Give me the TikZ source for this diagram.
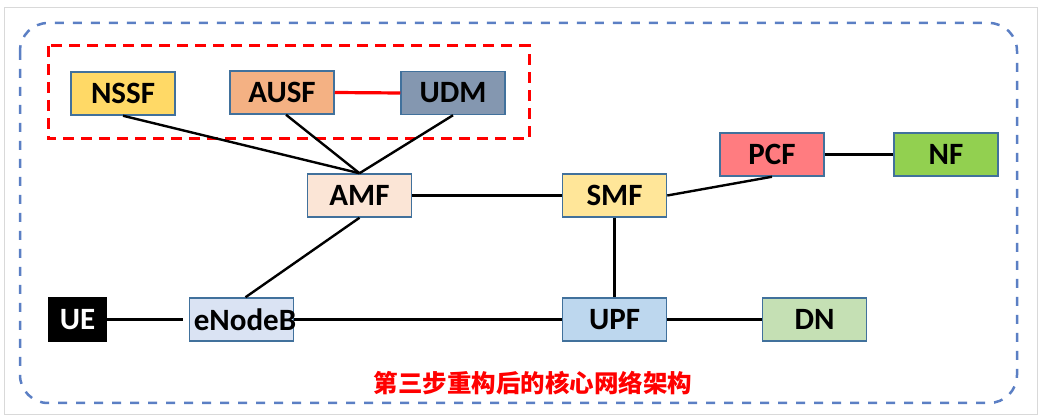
\documentclass[tikz,border=0pt]{standalone}
\usepackage{fontspec}
\setmainfont{Carlito}
\newfontfamily\cjk{Noto Sans CJK SC}
\definecolor{boxborder}{HTML}{41719C}
\definecolor{cNSSF}{HTML}{FFD966}
\definecolor{cAUSF}{HTML}{F4B183}
\definecolor{cUDM}{HTML}{8497B0}
\definecolor{cAMF}{HTML}{FBE5D6}
\definecolor{cSMF}{HTML}{FFE699}
\definecolor{cPCF}{HTML}{FF7C80}
\definecolor{cNF}{HTML}{92D050}
\definecolor{cENB}{HTML}{DAE3F3}
\definecolor{cUPF}{HTML}{BDD7EE}
\definecolor{cDN}{HTML}{C5E0B4}
\definecolor{outerblue}{HTML}{5B7FC4}
\definecolor{framegray}{HTML}{D9D9D9}
\begin{document}
\begin{tikzpicture}[x=1pt,y=-1pt,
  boxfont/.style={font=\fontsize{31}{34}\selectfont\bfseries},
  nf/.style={draw=boxborder, line width=1.5pt, minimum width=104pt, minimum height=43pt,
    inner sep=0pt, boxfont, text=black},
  link/.style={line width=2.4pt, black},
  redlink/.style={line width=3.2pt, red}]
\useasboundingbox (0,0) rectangle (1042,419);
\draw[framegray, line width=1pt] (4,8) rectangle (1037,415);
\draw[outerblue, line width=2.5pt, dash pattern=on 9pt off 9pt, rounded corners=28pt] (20,23) rectangle (1017,403);
\draw[red, line width=3pt, dash pattern=on 11pt off 7pt] (48,46) rectangle (529,139);

\node[nf, fill=cNSSF] (nssf) at (123,93.5) {NSSF};
\node[nf, fill=cAUSF] (ausf) at (282,92.5) {AUSF};
\node[nf, fill=cUDM] (udm) at (453,93) {UDM};
\node[nf, fill=cAMF] (amf) at (359.5,195.5) {AMF};
\node[nf, fill=cSMF] (smf) at (614.5,195.5) {SMF};
\node[nf, fill=cPCF] (pcf) at (772,154.5) {PCF};
\node[nf, fill=cNF] (nfb) at (946,154.5) {NF};
\node[nf, fill=black, draw=black, text=white, minimum width=58pt, minimum height=44pt] (ue) at (77.5,319.5) {UE};
\node[nf, fill=cENB] (enb) at (241.5,319.5) {};
\node[boxfont, inner sep=0pt] (enbtext) at (245,320) {eNodeB};
\node[nf, fill=cUPF] (upf) at (614.5,319.5) {UPF};
\node[nf, fill=cDN] (dn) at (814.5,319.5) {DN};

\draw[redlink] (ausf.east) -- (udm.west);
\draw[link] (nssf.south) -- (amf.north);
\draw[link] ([xshift=4pt]ausf.south) -- (amf.north);
\draw[link] (udm.south) -- (amf.north);
\draw[link] (amf.east) -- (smf.west);
\draw[link] (smf.east) -- (pcf.south);
\draw[link] (pcf.east) -- (nfb.west);
\draw[link] (smf.south) -- (upf.north);
\draw[link] (amf.south) -- ([xshift=4pt]enb.north);
\draw[link, shorten >=6pt] (ue.east) -- (enb.west);
\draw[link] (enb.east) -- (upf.west);
\draw[link] (upf.east) -- (dn.west);

\node[text=red, font=\cjk\bfseries\fontsize{24.5}{28}\selectfont, inner sep=0pt] (caption) at (533,383) {第三步重构后的核心网络架构};
\end{tikzpicture}
\end{document}
